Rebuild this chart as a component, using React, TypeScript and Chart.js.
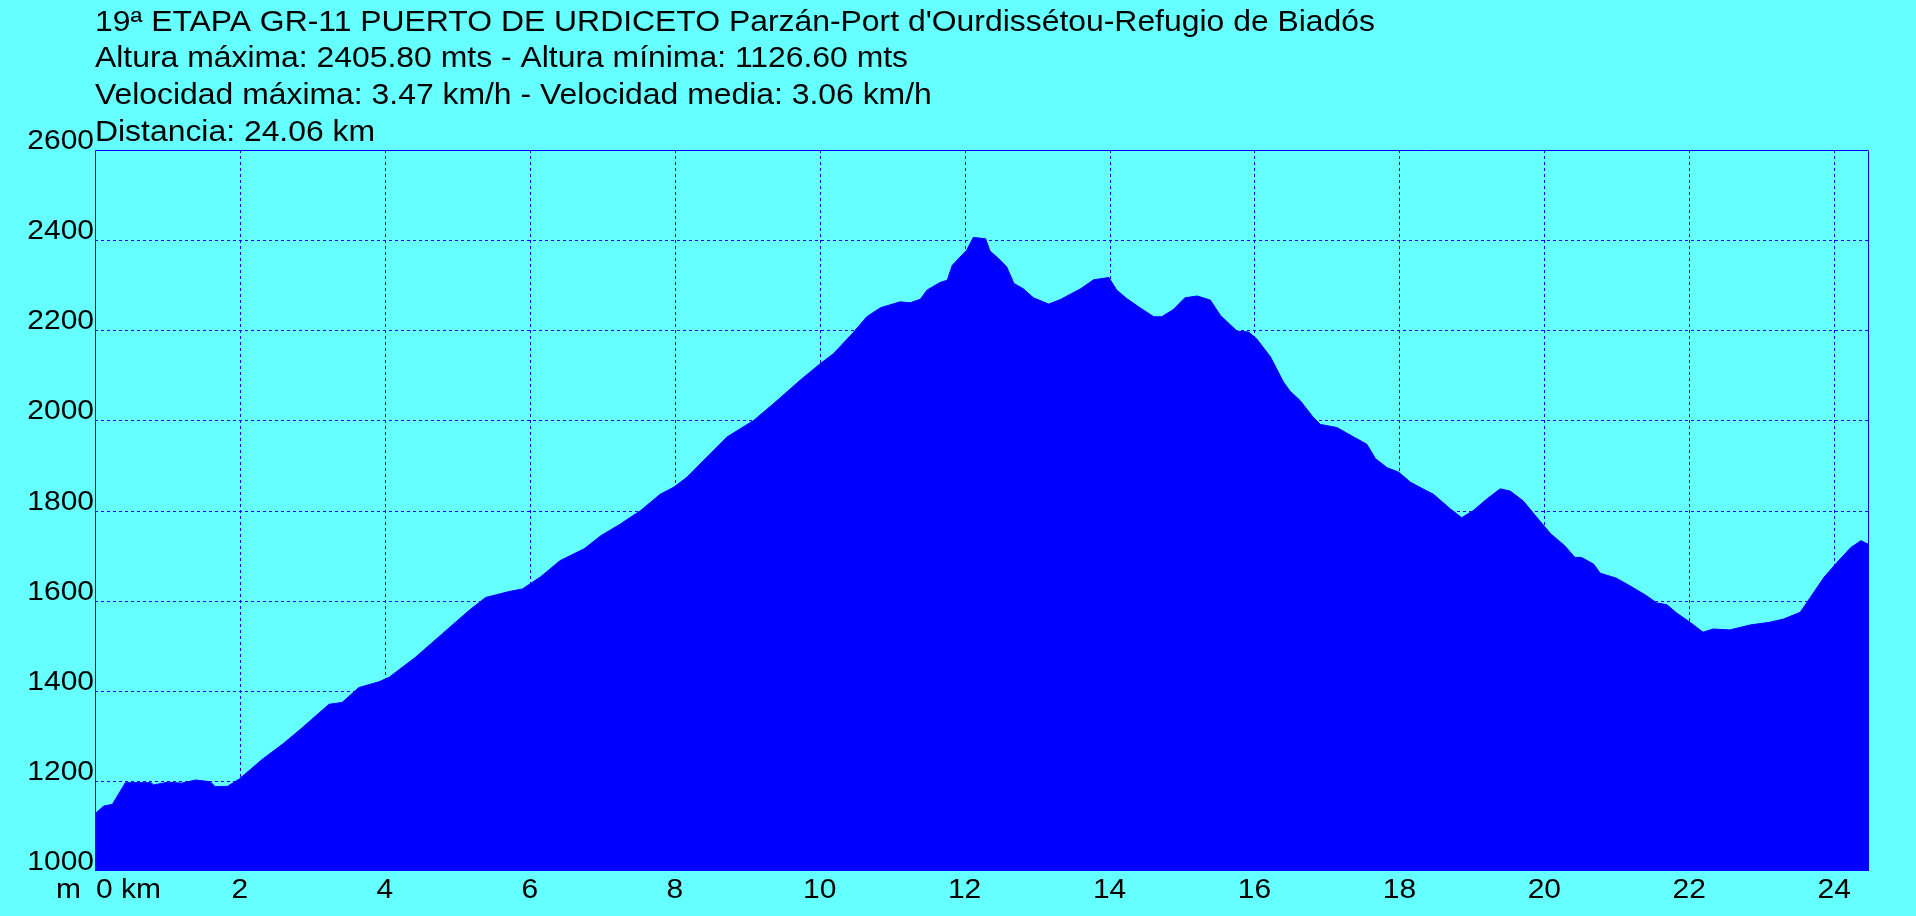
import React, { useEffect, useRef } from "react";
import { Chart, registerables } from "chart.js";

Chart.register(...registerables);

const titleLines = [
  "19ª ETAPA GR-11 PUERTO DE URDICETO Parzán-Port d'Ourdissétou-Refugio de Biadós",
  "Altura máxima: 2405.80 mts - Altura mínima: 1126.60 mts",
  "Velocidad máxima: 3.47 km/h - Velocidad media: 3.06 km/h",
  "Distancia: 24.06 km",
];

const distanceKm = [
  0.0, 0.12, 0.24, 0.42, 0.77, 0.81, 1.0, 1.2, 1.39, 1.59, 1.66, 1.83, 1.99, 2.31, 2.6, 2.86, 3.23, 3.41, 3.64,
  3.92, 4.06, 4.42, 4.79, 5.16, 5.39, 5.71, 5.9, 6.15, 6.42, 6.75, 6.98, 7.25, 7.53, 7.8, 7.99,
  8.17, 8.49, 8.72, 9.09, 9.37, 9.73, 10.01, 10.19, 10.47, 10.65, 10.84, 11.11, 11.25, 11.39,
  11.48, 11.66, 11.76, 11.83, 11.94, 12.03, 12.12, 12.29, 12.35, 12.49, 12.58, 12.68, 12.81,
  12.95, 13.16, 13.32, 13.6, 13.78, 13.99, 14.1, 14.24, 14.42, 14.61, 14.72, 14.88, 15.04,
  15.21, 15.39, 15.53, 15.76, 15.92, 16.03, 16.22, 16.4, 16.49, 16.63, 16.81, 16.91, 17.14,
  17.37, 17.55, 17.67, 17.83, 17.99, 18.15, 18.3, 18.47, 18.7, 18.86, 19.02, 19.21, 19.39,
  19.53, 19.71, 19.9, 20.09, 20.28, 20.42, 20.51, 20.68, 20.77, 20.99, 21.18, 21.41, 21.55,
  21.69, 21.83, 22.01, 22.19, 22.33, 22.56, 22.84, 23.11, 23.3, 23.53, 23.67, 23.86, 24.04,
  24.23, 24.37, 24.46, 24.48,
];

const elevationM = [
  1127, 1144, 1148, 1196, 1196, 1191, 1197, 1195, 1202, 1198, 1187, 1188, 1204, 1248, 1283, 1318, 1370, 1374, 1407,
  1420, 1430, 1474, 1526, 1578, 1607, 1620, 1626, 1653, 1689, 1715, 1744, 1770, 1800, 1836, 1852,
  1874, 1926, 1963, 2000, 2038, 2089, 2126, 2148, 2196, 2230, 2250, 2263, 2261, 2269,
  2289, 2306, 2311, 2344, 2363, 2378, 2406, 2403, 2376, 2356, 2341, 2304, 2292,
  2272, 2258, 2268, 2292, 2312, 2317, 2289, 2270, 2250, 2230, 2230, 2246, 2272,
  2276, 2267, 2233, 2198, 2196, 2181, 2141, 2085, 2065, 2044, 2007, 1991, 1984,
  1963, 1947, 1915, 1895, 1885, 1863, 1850, 1836, 1804, 1784, 1800, 1826, 1848,
  1843, 1821, 1784, 1748, 1722, 1696, 1696, 1681, 1661, 1650, 1633, 1611, 1595,
  1591, 1572, 1552, 1530, 1537, 1535, 1546, 1552, 1559, 1574, 1607, 1652, 1685,
  1718, 1733, 1726, 1730,
];

const xTickValues = [0, 2, 4, 6, 8, 10, 12, 14, 16, 18, 20, 22, 24];
const xTickLabels = ["0 km", "2", "4", "6", "8", "10", "12", "14", "16", "18", "20", "22", "24"];
const yTickValues = [1000, 1200, 1400, 1600, 1800, 2000, 2200, 2400, 2600];
const yTickLabels = ["1000", "1200", "1400", "1600", "1800", "2000", "2200", "2400", "2600"];
const yUnitLabel = "m";

const X_MAX = 24.48;
const Y_MIN = 1000;
const Y_MAX = 2600;

const BG = "#66FFFF";
const BLUE = "#0000FF";
const FAMILY = '"Liberation Sans", Arial, sans-serif';
const TITLE_FONT = `29px ${FAMILY}`;
const TICK_FONT = `28px ${FAMILY}`;
const TITLE_TARGET_WIDTH = 1280;
const TICK_STRETCH = 1.07;

function drawText(ctx: CanvasRenderingContext2D, text: string, x: number, y: number, align: CanvasTextAlign, sx: number) {
  ctx.save();
  ctx.translate(x, y);
  ctx.scale(sx, 1);
  ctx.textAlign = align;
  ctx.fillText(text, 0, 0);
  ctx.restore();
}

const decorPlugin = {
  id: "profileDecor",
  beforeDatasetsDraw(chart: any) {
    const { ctx, chartArea, scales } = chart;
    const { left, right, top, bottom } = chartArea;
    ctx.save();
    ctx.strokeStyle = BLUE;
    ctx.lineWidth = 1;
    ctx.setLineDash([3, 3]);
    xTickValues.forEach((v) => {
      if (v <= 0) return;
      const px = Math.round(scales.x.getPixelForValue(v)) + 0.5;
      ctx.beginPath();
      ctx.moveTo(px, top);
      ctx.lineTo(px, bottom);
      ctx.stroke();
    });
    yTickValues.forEach((v) => {
      if (v <= Y_MIN || v >= Y_MAX) return;
      const py = Math.round(scales.y.getPixelForValue(v)) + 0.5;
      ctx.beginPath();
      ctx.moveTo(left, py);
      ctx.lineTo(right, py);
      ctx.stroke();
    });
    ctx.restore();
  },
  afterDatasetsDraw(chart: any) {
    const { ctx, chartArea, scales } = chart;
    const { left, right, top, bottom } = chartArea;
    ctx.save();
    ctx.strokeStyle = BLUE;
    ctx.lineWidth = 1;
    ctx.setLineDash([]);
    ctx.beginPath();
    ctx.moveTo(left + 0.5, bottom);
    ctx.lineTo(left + 0.5, top + 0.5);
    ctx.lineTo(right - 0.5, top + 0.5);
    ctx.lineTo(right - 0.5, bottom);
    ctx.stroke();

    ctx.fillStyle = "#000000";
    ctx.textBaseline = "alphabetic";

    // title lines
    ctx.font = TITLE_FONT;
    const w0 = ctx.measureText(titleLines[0]).width;
    const titleStretch = w0 > 0 ? TITLE_TARGET_WIDTH / w0 : 1;
    titleLines.forEach((line, i) => {
      drawText(ctx, line, 95, 30.5 + i * 36.7, "left", titleStretch);
    });

    ctx.font = TICK_FONT;
    // y tick labels
    yTickValues.forEach((v, i) => {
      const py = scales.y.getPixelForValue(v);
      drawText(ctx, yTickLabels[i], 94, py - 1, "right", TICK_STRETCH);
    });

    // x tick labels
    const xBase = 898;
    xTickValues.forEach((v, i) => {
      const px = scales.x.getPixelForValue(v);
      drawText(ctx, xTickLabels[i], i === 0 ? px + 1 : px, xBase, i === 0 ? "left" : "center", TICK_STRETCH);
    });
    drawText(ctx, yUnitLabel, 81, xBase, "right", TICK_STRETCH);
    ctx.restore();
  },
};

export default function App() {
  const canvasRef = useRef<HTMLCanvasElement | null>(null);

  useEffect(() => {
    if (!canvasRef.current) return;
    const chart = new Chart(canvasRef.current, {
      type: "line",
      data: {
        datasets: [
          {
            data: distanceKm.map((d, i) => ({ x: d, y: elevationM[i] })),
            borderColor: BLUE,
            backgroundColor: BLUE,
            borderWidth: 1,
            pointRadius: 0,
            tension: 0,
            fill: "start",
          },
        ],
      },
      options: {
        animation: false,
        responsive: false,
        maintainAspectRatio: false,
        layout: { padding: { left: 95, top: 150, right: 47, bottom: 45 } },
        plugins: {
          legend: { display: false },
          tooltip: { enabled: false },
          title: { display: false },
        },
        scales: {
          x: { type: "linear", min: 0, max: X_MAX, display: false },
          y: { type: "linear", min: Y_MIN, max: Y_MAX, display: false },
        },
      },
      plugins: [decorPlugin],
    });
    return () => chart.destroy();
  }, []);

  return (
    <div
      style={{
        position: "fixed",
        left: 0,
        top: 0,
        width: 1916,
        height: 916,
        background: BG,
        overflow: "hidden",
      }}
    >
      <canvas ref={canvasRef} width={1916} height={916} style={{ display: "block" }} />
    </div>
  );
}
